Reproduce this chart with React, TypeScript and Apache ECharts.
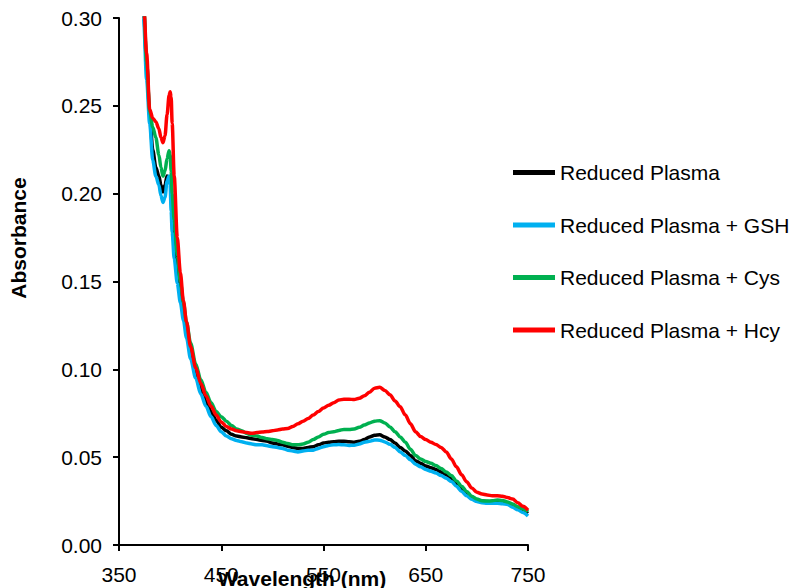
import React, { useEffect, useRef } from "react";
import * as echarts from "echarts";

const wavelengths = [
  370, 374, 377, 380, 383, 386, 389, 391, 393, 395,
  397, 399, 400, 401, 402, 404, 407, 410, 413, 416,
  420, 425, 430, 435, 440, 445, 450, 455, 460, 465,
  470, 475, 480, 485, 490, 495, 500, 505, 510, 515,
  520, 525, 530, 535, 540, 545, 550, 555, 560, 565,
  570, 575, 580, 585, 590, 595, 600, 605, 610, 615,
  620, 625, 630, 635, 640, 645, 650, 655, 660, 665,
  670, 675, 680, 685, 690, 695, 700, 705, 710, 715,
  720, 725, 730, 735, 740, 745, 750,
];

const reducedPlasma = [
  0.36, 0.305, 0.275, 0.245, 0.225, 0.215, 0.21, 0.205, 0.201, 0.205,
  0.21, 0.209, 0.209, 0.205, 0.19, 0.17, 0.155, 0.142, 0.132, 0.122,
  0.11, 0.098, 0.089, 0.082, 0.076, 0.071, 0.067, 0.065, 0.063, 0.062,
  0.0615, 0.061, 0.0605, 0.06, 0.0595, 0.059, 0.058, 0.0575, 0.057, 0.0562,
  0.0555, 0.055, 0.055, 0.0555, 0.056, 0.057, 0.058, 0.0585, 0.0588, 0.059,
  0.059, 0.0588, 0.0585, 0.059, 0.06, 0.0615, 0.0625, 0.0627, 0.0615, 0.06,
  0.058, 0.0555, 0.0535, 0.051, 0.048, 0.0465, 0.045, 0.044, 0.043, 0.0415,
  0.04, 0.038, 0.035, 0.032, 0.029, 0.027, 0.0255, 0.025, 0.0247, 0.0245,
  0.0247, 0.0245, 0.024, 0.022, 0.021, 0.0195, 0.018,
];

const plusGSH = [
  0.36, 0.3, 0.265, 0.24, 0.219, 0.21, 0.205, 0.199, 0.195, 0.198,
  0.207, 0.21, 0.205, 0.19, 0.178, 0.163, 0.149, 0.138, 0.128, 0.118,
  0.106, 0.095, 0.086, 0.079, 0.073, 0.068, 0.0645, 0.062, 0.0605, 0.0595,
  0.0588, 0.058, 0.0575, 0.057, 0.057, 0.0565, 0.056, 0.0555, 0.055, 0.054,
  0.0535, 0.053, 0.0535, 0.054, 0.054, 0.055, 0.056, 0.0567, 0.057, 0.0572,
  0.057, 0.0567, 0.0568, 0.0575, 0.0585, 0.059, 0.0598, 0.0597, 0.0587, 0.0573,
  0.0555, 0.053, 0.051, 0.0485, 0.046, 0.0445, 0.043, 0.042, 0.041, 0.0395,
  0.038, 0.0362, 0.0335, 0.0305, 0.028, 0.026, 0.0248, 0.024, 0.0237, 0.0237,
  0.0238, 0.0235, 0.023, 0.0215, 0.02, 0.0185, 0.0165,
];

const plusCys = [
  0.36, 0.31, 0.275, 0.247, 0.238, 0.232, 0.222, 0.215, 0.21, 0.213,
  0.22, 0.2245, 0.222, 0.213, 0.2, 0.185, 0.165, 0.15, 0.138, 0.127,
  0.115, 0.103, 0.094, 0.087, 0.081, 0.076, 0.073, 0.0705, 0.068, 0.066,
  0.065, 0.0635, 0.0625, 0.062, 0.0612, 0.0605, 0.06, 0.0595, 0.0585, 0.0578,
  0.057, 0.057, 0.0575, 0.0585, 0.06, 0.0615, 0.063, 0.064, 0.0645, 0.0652,
  0.0658, 0.0658, 0.066, 0.067, 0.0683, 0.0695, 0.0705, 0.0708, 0.0695, 0.0672,
  0.0645, 0.0615, 0.0585, 0.0545, 0.051, 0.049, 0.0475, 0.0465, 0.0452, 0.0435,
  0.0415, 0.0395, 0.0365, 0.0335, 0.0305, 0.0278, 0.0262, 0.0252, 0.025, 0.0252,
  0.0256, 0.0254, 0.0245, 0.0233, 0.0218, 0.0205, 0.019,
];

const plusHcy = [
  0.36, 0.31, 0.28, 0.248, 0.243, 0.241, 0.237, 0.232, 0.229, 0.233,
  0.245, 0.256, 0.258, 0.255, 0.24, 0.21, 0.175, 0.155, 0.139, 0.127,
  0.113, 0.101, 0.092, 0.085, 0.079, 0.074, 0.07, 0.0675, 0.066, 0.065,
  0.0645, 0.064, 0.0636, 0.064, 0.0643, 0.0646, 0.065, 0.0655, 0.066, 0.0663,
  0.0675, 0.069, 0.0705, 0.072, 0.074, 0.076, 0.078, 0.0795, 0.081, 0.0825,
  0.083, 0.083, 0.0828, 0.0835, 0.085, 0.087, 0.0893, 0.0898, 0.088, 0.0855,
  0.082, 0.0787, 0.074, 0.069, 0.0645, 0.0617, 0.06, 0.0585, 0.0572, 0.0555,
  0.053, 0.049, 0.0445, 0.04, 0.036, 0.0325, 0.03, 0.029, 0.0285, 0.028,
  0.028, 0.0278, 0.027, 0.0262, 0.024, 0.022, 0.0198,
];

const seriesNames = [
  "Reduced Plasma",
  "Reduced Plasma + GSH",
  "Reduced Plasma + Cys",
  "Reduced Plasma + Hcy",
];
const seriesValues = [reducedPlasma, plusGSH, plusCys, plusHcy];
const seriesColors = ["#000000", "#00B0F0", "#00B050", "#FF0000"];

const FONT = "Arial, 'Liberation Sans', sans-serif";

export default function App() {
  const ref = useRef<HTMLDivElement>(null);

  useEffect(() => {
    if (!ref.current) return;
    const chart = echarts.init(ref.current, null, { renderer: "svg" });
    const option: any = {
      animation: false,
      backgroundColor: "#ffffff",
      grid: { left: 119, right: 269, top: 18, bottom: 43, containLabel: false },
      legend: {
        orient: "vertical",
        left: 513,
        top: 162,
        padding: 0,
        itemWidth: 42,
        itemHeight: 5,
        itemGap: 31.5,
        icon: "rect",
        data: seriesNames,
        textStyle: { fontFamily: FONT, fontSize: 21, color: "#000", lineHeight: 21 },
      },
      xAxis: {
        type: "value",
        min: 350,
        max: 750,
        interval: 100,
        axisLine: { show: true, lineStyle: { color: "#000", width: 2 } },
        axisTick: { show: true, inside: false, length: 6, lineStyle: { color: "#000", width: 2 } },
        axisLabel: { fontFamily: FONT, fontSize: 21, color: "#000", margin: 19 },
        splitLine: { show: false },
      },
      yAxis: {
        type: "value",
        min: 0,
        max: 0.3,
        interval: 0.05,
        axisLine: { show: true, onZero: false, lineStyle: { color: "#000", width: 2 } },
        axisTick: { show: true, inside: false, length: 6, lineStyle: { color: "#000", width: 2 } },
        axisLabel: {
          fontFamily: FONT,
          fontSize: 21,
          color: "#000",
          margin: 17,
          formatter: (v: number) => v.toFixed(2),
        },
        splitLine: { show: false },
      },
      graphic: [
        {
          type: "text",
          x: 302,
          y: 578,
          style: {
            text: "Wavelength (nm)",
            fontFamily: FONT,
            fontSize: 21,
            fontWeight: "bold",
            fill: "#000",
            align: "center",
            verticalAlign: "middle",
          },
          z: 100,
        },
        {
          type: "text",
          x: 18,
          y: 238,
          rotation: Math.PI / 2,
          style: {
            text: "Absorbance",
            fontFamily: FONT,
            fontSize: 21,
            fontWeight: "bold",
            fill: "#000",
            align: "center",
            verticalAlign: "middle",
          },
        },
      ],
      series: seriesNames.map((name, i) => ({
        name,
        type: "line",
        data: wavelengths.map((w, j) => [w, seriesValues[i][j]]),
        showSymbol: false,
        symbol: "none",
        smooth: 0.3,
        smoothMonotone: "x",
        clip: true,
        color: seriesColors[i],
        lineStyle: { color: seriesColors[i], width: 3.5 },
        z: 2 + i,
      })),
    };
    chart.setOption(option);
    return () => chart.dispose();
  }, []);

  return (
    <div
      ref={ref}
      style={{ position: "fixed", left: 0, top: 0, width: 797, height: 588 }}
    />
  );
}
